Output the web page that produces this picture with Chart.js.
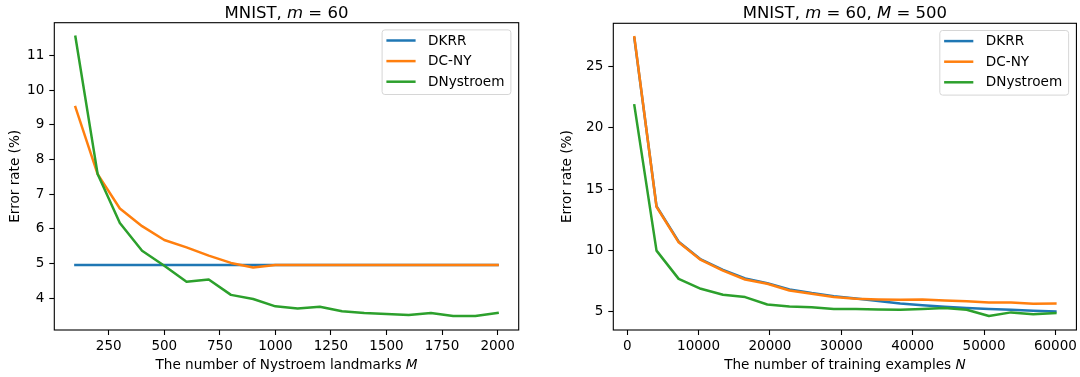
<!DOCTYPE html>
<html><head><meta charset="utf-8">
<script src="https://cdn.jsdelivr.net/npm/chart.js@4.4.1/dist/chart.umd.min.js"></script>
<style>
html,body{margin:0;padding:0;background:#fff;}
#wrap{position:relative;width:1080px;height:377px;overflow:hidden;}
.c{position:absolute;top:0;width:540px;height:377px;}
</style></head><body>
<div id="wrap">
<div class="c" style="left:0"><canvas id="left" width="540" height="377"></canvas></div>
<div class="c" style="left:540px"><canvas id="right" width="540" height="377"></canvas></div>
</div>
<script>
// ---------- data ----------
const seriesNames = ['DKRR', 'DC-NY', 'DNystroem'];
const seriesColors = ['#1f77b4', '#ff7f0e', '#2ca02c'];

// Left panel: error vs number of Nystroem landmarks M
const landmarksM = [100, 200, 300, 400, 500, 600, 700, 800, 900, 1000, 1100, 1200, 1300, 1400, 1500, 1600, 1700, 1800, 1900, 2000];
const leftDKRR = [4.96, 4.96, 4.96, 4.96, 4.96, 4.96, 4.96, 4.96, 4.96, 4.96, 4.96, 4.96, 4.96, 4.96, 4.96, 4.96, 4.96, 4.96, 4.96, 4.96];
const leftDCNY = [9.51, 7.58, 6.59, 6.08, 5.68, 5.47, 5.23, 5.02, 4.89, 4.96, 4.96, 4.96, 4.96, 4.96, 4.96, 4.96, 4.96, 4.96, 4.96, 4.96];
const leftDNystroem = [11.54, 7.58, 6.17, 5.37, 4.94, 4.48, 4.54, 4.10, 3.98, 3.77, 3.71, 3.76, 3.63, 3.58, 3.55, 3.52, 3.58, 3.49, 3.49, 3.58];
const leftXTicks = [250, 500, 750, 1000, 1250, 1500, 1750, 2000];
const leftYTicks = [4, 5, 6, 7, 8, 9, 10, 11];

// Right panel: error vs number of training examples N
const trainN = [1000, 4105, 7211, 10316, 13421, 16526, 19632, 22737, 25842, 28947, 32053, 35158, 38263, 41368, 44474, 47579, 50684, 53789, 56895, 60000];
const rightDKRR = [27.35, 13.60, 10.70, 9.25, 8.40, 7.70, 7.30, 6.80, 6.50, 6.25, 6.05, 5.85, 5.65, 5.50, 5.38, 5.27, 5.19, 5.14, 5.05, 5.00];
const rightDCNY = [27.42, 13.56, 10.65, 9.21, 8.34, 7.61, 7.26, 6.71, 6.44, 6.17, 6.03, 5.98, 5.95, 5.98, 5.90, 5.84, 5.73, 5.73, 5.63, 5.65];
const rightDNystroem = [21.85, 9.97, 7.66, 6.85, 6.36, 6.17, 5.57, 5.41, 5.35, 5.19, 5.19, 5.16, 5.14, 5.19, 5.27, 5.14, 4.62, 4.92, 4.76, 4.86];
const rightXTicks = [0, 10000, 20000, 30000, 40000, 50000, 60000];
const rightYTicks = [5, 10, 15, 20, 25];

const yAxisTitle = 'Error rate (%)';
const leftTitle = [['MNIST, ', false], ['m', true], [' = 60', false]];
const rightTitle = [['MNIST, ', false], ['m', true], [' = 60, ', false], ['M', true], [' = 500', false]];
const leftXLabel = [['The number of Nystroem landmarks ', false], ['M', true]];
const rightXLabel = [['The number of training examples ', false], ['N', true]];

// ---------- styling ----------
const FAM = '"DejaVu Sans", sans-serif';
const TICK_PX = 13.5, LABEL_PX = 13.6, TITLE_PX = 16.5, LEGEND_PX = 13.6;
const LINE_W = 2.5;

function padRange(arrs) {
  const all = [].concat(...arrs);
  const lo = Math.min(...all), hi = Math.max(...all);
  const p = (hi - lo) * 0.05;
  return [lo - p, hi + p];
}

function drawRich(ctx, segs, cx, baseline, px) {
  const fonts = segs.map(s => (s[1] ? 'italic ' : '') + px + 'px ' + FAM);
  let total = 0;
  const widths = segs.map((s, i) => { ctx.font = fonts[i]; const w = ctx.measureText(s[0]).width; total += w; return w; });
  let x = cx - total / 2;
  ctx.fillStyle = '#000';
  ctx.textBaseline = 'alphabetic';
  ctx.textAlign = 'left';
  segs.forEach((s, i) => { ctx.font = fonts[i]; ctx.fillText(s[0], x, baseline); x += widths[i]; });
}

const decorPlugin = {
  id: 'decor',
  afterDatasetsDraw(chart) {
    const ctx = chart.ctx, a = chart.chartArea;
    ctx.save();
    ctx.strokeStyle = '#000';
    ctx.lineWidth = 1.1;
    ctx.strokeRect(a.left, a.top, a.right - a.left, a.bottom - a.top);
    ctx.restore();
  },
  afterDraw(chart) {
    const o = chart.options.plugins.decor;
    const ctx = chart.ctx, a = chart.chartArea;
    ctx.save();
    const cx = (a.left + a.right) / 2;
    drawRich(ctx, o.title, cx, 18.3, TITLE_PX);
    drawRich(ctx, o.xlabel, cx, 369.3, LABEL_PX);
    // legend
    ctx.font = LEGEND_PX + 'px ' + FAM;
    const ds = chart.data.datasets;
    const tw = Math.max(...ds.map(d => ctx.measureText(d.label).width));
    const w = 46 + tw + 6.5, h = 64.6;
    const right = a.right - 7.8, top = a.top + 7.2, left = right - w;
    const r = 2.8;
    ctx.beginPath();
    ctx.moveTo(left + r, top);
    ctx.arcTo(right, top, right, top + h, r);
    ctx.arcTo(right, top + h, left, top + h, r);
    ctx.arcTo(left, top + h, left, top, r);
    ctx.arcTo(left, top, right, top, r);
    ctx.closePath();
    ctx.fillStyle = 'rgba(255,255,255,0.8)';
    ctx.fill();
    ctx.strokeStyle = '#d6d6d6';
    ctx.lineWidth = 1;
    ctx.stroke();
    [0, 1, 2].forEach((i, k) => {
      const y = top + 10.6 + k * 20.6;
      ctx.beginPath();
      ctx.strokeStyle = ds[i].borderColor;
      ctx.lineWidth = LINE_W;
      ctx.lineCap = 'butt';
      ctx.moveTo(left + 4.3, y);
      ctx.lineTo(left + 33.5, y);
      ctx.stroke();
      ctx.fillStyle = '#000';
      ctx.textBaseline = 'middle';
      ctx.textAlign = 'left';
      ctx.fillText(ds[i].label, left + 46, y + 0.5);
    });
    ctx.restore();
  }
};

function makeChart(id, xs, ys, xTicks, yTicks, area, title, xlabel, yTitleCenter) {
  const [xmin, xmax] = padRange([xs]);
  const [ymin, ymax] = padRange(ys);
  const datasets = ys.map((arr, i) => ({
    label: seriesNames[i],
    data: xs.map((x, j) => ({ x: x, y: arr[j] })),
    borderColor: seriesColors[i],
    backgroundColor: seriesColors[i],
    borderWidth: LINE_W,
    pointRadius: 0,
    tension: 0,
    fill: false,
    borderCapStyle: 'square',
    borderJoinStyle: 'round',
    order: 2 - i
  }));
  const tickFont = { family: FAM, size: TICK_PX };
  const lineH = LABEL_PX * 1.2;
  return new Chart(document.getElementById(id), {
    type: 'line',
    data: { datasets },
    plugins: [decorPlugin],
    options: {
      responsive: false,
      animation: false,
      devicePixelRatio: 1,
      layout: { padding: { top: area.top, right: 540 - area.right, bottom: 0, left: 0 } },
      plugins: {
        legend: { display: false },
        tooltip: { enabled: false },
        title: { display: false },
        decor: { title, xlabel }
      },
      scales: {
        x: {
          type: 'linear', min: xmin, max: xmax,
          afterBuildTicks: s => { s.ticks = xTicks.map(v => ({ value: v })); },
          afterFit: s => { s.height = 377 - area.bottom; },
          ticks: { font: tickFont, color: '#000', padding: 3, maxRotation: 0, autoSkip: false, callback: v => String(v) },
          grid: { drawOnChartArea: false, drawTicks: true, tickLength: 5, tickWidth: 1.1, tickColor: '#000' },
          border: { display: false }
        },
        y: {
          type: 'linear', min: ymin, max: ymax,
          afterBuildTicks: s => { s.ticks = yTicks.map(v => ({ value: v })); },
          afterFit: s => { s.width = area.left; },
          ticks: { font: tickFont, color: '#000', padding: 5, autoSkip: false, callback: v => String(v) },
          grid: { drawOnChartArea: false, drawTicks: true, tickLength: 5, tickWidth: 1.1, tickColor: '#000' },
          border: { display: false },
          title: { display: true, text: yAxisTitle, color: '#000', font: { family: FAM, size: LABEL_PX }, padding: { top: yTitleCenter - lineH / 2, bottom: 0 } }
        }
      }
    }
  });
}

makeChart('left', landmarksM, [leftDKRR, leftDCNY, leftDNystroem], leftXTicks, leftYTicks,
  { left: 54.3, right: 518.7, top: 22.7, bottom: 330 }, leftTitle, leftXLabel, 15.5);
makeChart('right', trainN, [rightDKRR, rightDCNY, rightDNystroem], rightXTicks, rightYTicks,
  { left: 73.3, right: 536.7, top: 23.3, bottom: 330 }, rightTitle, rightXLabel, 27);
</script>
</body></html>
